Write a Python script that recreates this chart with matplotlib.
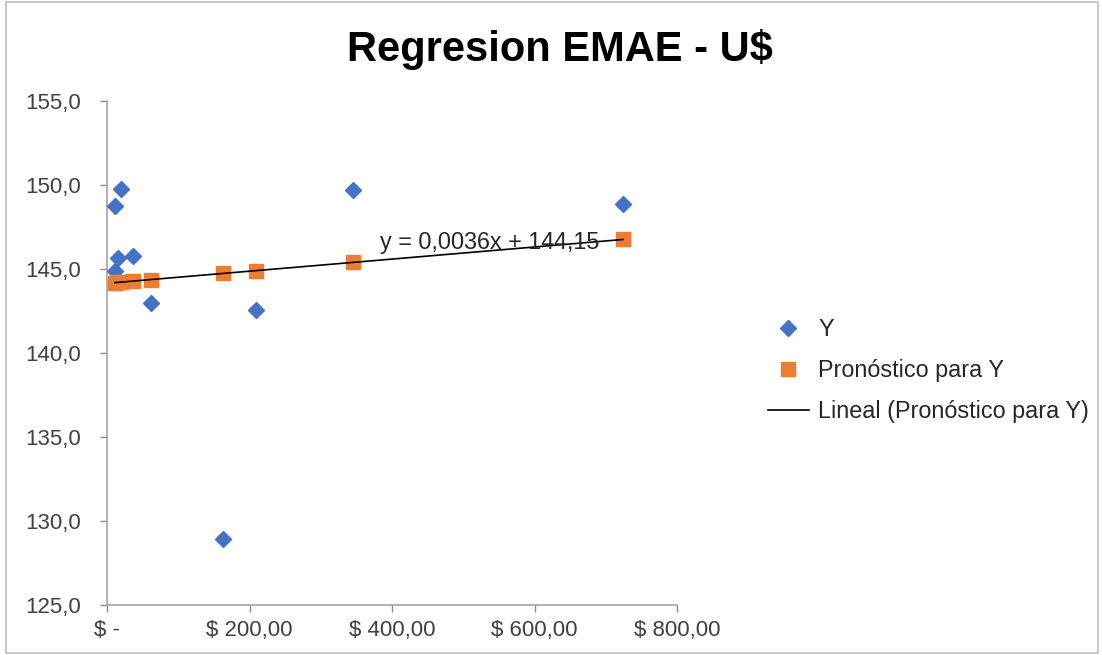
import matplotlib.pyplot as plt
import numpy as np

plt.rcParams['font.family'] = ['Liberation Sans', 'DejaVu Sans']

# observed values (Y) and forecast values, x is the dollar amount
x_vals = [19.6, 11, 15, 36, 11, 62, 163, 209, 345, 724]
y_vals = [149.76, 148.75, 145.65, 145.8, 144.9, 143.0, 128.9, 142.55, 149.7, 148.87]
y_pred = [144.22, 144.19, 144.20, 144.28, 144.19, 144.37, 144.74, 144.90, 145.39, 146.76]

slope = 0.0036
intercept = 144.15

x_ticks = [0, 200, 400, 600, 800]
x_labels = ['$ -', '$ 200,00', '$ 400,00', '$ 600,00', '$ 800,00']
y_ticks = [125, 130, 135, 140, 145, 150, 155]

fig = plt.figure(figsize=(11.02, 6.55), dpi=100)
ax = fig.add_axes([107 / 1102, 1 - 605 / 655, (677 - 107) / 1102, (605 - 101) / 655])

ax.plot(x_vals, y_vals, linestyle='none', marker='D', ms=8, color='#4472C4', label='Y', zorder=3)
ax.plot(x_vals, y_pred, linestyle='none', marker='s', ms=9.5, color='#ED7D31', label='Pronóstico para Y', zorder=4)

# linear trendline over the forecast range
xs = np.array([min(x_vals), max(x_vals)])
ax.plot(xs, slope * xs + intercept, color='black', lw=1.2, label='Lineal (Pronóstico para Y)', zorder=5)
ax.text(383, 146.55, 'y = 0,0036x + 144,15', fontsize=16.8, color='#262626', va='center', ha='left', zorder=6)

ax.set_xlim(0, 800)
ax.set_ylim(125, 155)
ax.set_xticks(x_ticks)
ax.set_xticklabels(x_labels)
ax.set_yticks(y_ticks)
ax.set_yticklabels([f'{v:.1f}'.replace('.', ',') for v in y_ticks])
ax.tick_params(axis='both', colors='#8c8c8c', labelcolor='#404040', length=5, width=1)
ax.tick_params(axis='y', labelsize=16, pad=14)
ax.tick_params(axis='x', labelsize=16, pad=6)

for s in ['top', 'right']:
    ax.spines[s].set_visible(False)
for s in ['left', 'bottom']:
    ax.spines[s].set_color('#a6a6a6')
    ax.spines[s].set_linewidth(1.2)

fig.text(560 / 1102, 1 - 50 / 655, 'Regresion EMAE - U$', fontsize=30, fontweight='bold',
         ha='center', va='center', color='black')

fig.legend(loc='upper left', bbox_to_anchor=(768 / 1102, 1 - 318 / 655), frameon=False,
           fontsize=16.8, labelcolor='#262626', handlelength=1.75, handletextpad=0.4,
           labelspacing=0.78, borderpad=0, borderaxespad=0)

# outer chart border
fig.patches.append(plt.Rectangle((6 / 1102, 0.003), 1 - 10 / 1102, 0.994, transform=fig.transFigure,
                                 fill=False, edgecolor='#bfbfbf', lw=1.2))

plt.savefig('out.png', dpi=100)
